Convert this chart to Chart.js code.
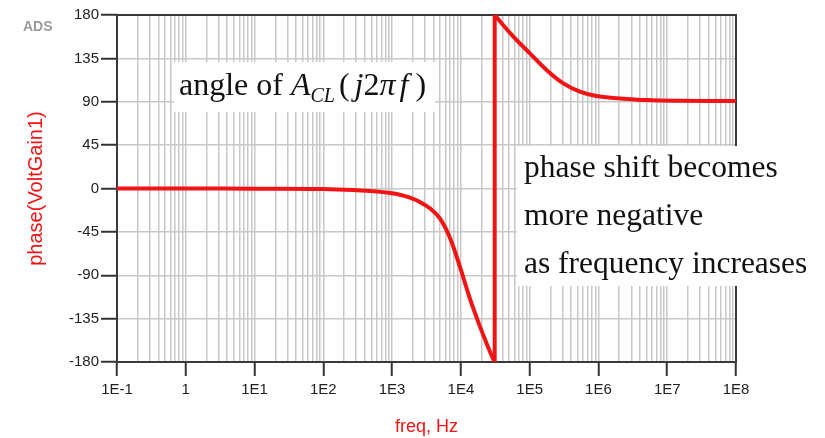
<!DOCTYPE html>
<html>
<head>
<meta charset="utf-8">
<script src="https://cdn.jsdelivr.net/npm/chart.js@4/dist/chart.umd.min.js"></script>
<style>
  html, body { margin: 0; padding: 0; background: #fff; }
  #wrap { width: 825px; height: 438px; }
</style>
</head>
<body>
<div id="wrap"><canvas id="chart" width="825" height="438"></canvas></div>
<script>
// frequency (Hz) and phase (deg)
const freq = [0.1, 1, 10, 100, 300, 600, 929, 1297, 1815, 2535, 3540, 4955, 6920, 9670, 13500, 18900, 26400, 30900,
              31000, 57500, 100000, 176000, 309000, 537000, 933000, 2040000, 5010000, 15100000, 100000000];
const phase = [0, -0.05, -0.2, -0.6, -1.8, -3.2, -4.7, -6.5, -9.5, -14, -20.5, -31, -51, -81, -114, -143, -169, -180,
               180, 157.8, 140.4, 123, 109, 100.4, 95.9, 93.5, 91.7, 91, 90.8];
const wrapAt = 17; // last point before the phase wraps from -180 to +180

const decades = [0.1, 1, 10, 1e2, 1e3, 1e4, 1e5, 1e6, 1e7, 1e8];
const decadeLabels = ['1E-1', '1', '1E1', '1E2', '1E3', '1E4', '1E5', '1E6', '1E7', '1E8'];
const yTicks = [-180, -135, -90, -45, 0, 45, 90, 135, 180];

const RED = '#f01414';
const SANS = "'Liberation Sans', Arial, sans-serif";
const SERIF = "'Liberation Serif', 'Times New Roman', serif";

const pts = (a, b) => freq.slice(a, b).map((f, i) => ({ x: f, y: phase[a + i] }));
const isDecade = v => decades.some(d => Math.abs(d - v) < d * 1e-6);

const lineStyle = {
  borderColor: RED,
  borderWidth: 4,
  pointRadius: 0,
  fill: false,
  tension: 0.4
};

// box around the plot area
const frame = {
  id: 'frame',
  beforeDatasetsDraw(chart) {
    const { ctx, chartArea: a } = chart;
    ctx.save();
    ctx.strokeStyle = '#3a3a3a';
    ctx.lineWidth = 2;
    ctx.strokeRect(a.left, a.top, a.right - a.left, a.bottom - a.top);
    ctx.restore();
  }
};

// text boxes pasted over the plot
const notes = {
  id: 'notes',
  afterDraw(chart) {
    const c = chart.ctx;
    c.save();
    c.fillStyle = '#9a9a9a';
    c.font = 'bold 14px ' + SANS;
    c.textBaseline = 'middle';
    c.fillText('ADS', 23, 27);

    c.textBaseline = 'alphabetic';
    c.fillStyle = '#fff';
    c.fillRect(174, 62, 261, 50);
    c.fillRect(517, 146, 296, 140);

    c.fillStyle = '#111';
    let x = 179;
    const put = (txt, font, dy, gap) => {
      c.font = font;
      c.fillText(txt, x, 95 + dy);
      x += c.measureText(txt).width + gap;
    };
    put('angle of ', '32px ' + SERIF, 0, 0);
    put('A', 'italic 32px ' + SERIF, 0, 0);
    put('CL', 'italic 20px ' + SERIF, 7, 4);
    put('(', '32px ' + SERIF, 0, 5);
    put('j', 'italic 32px ' + SERIF, 0, 0);
    put('2', '32px ' + SERIF, 0, 0);
    put('\u03c0', 'italic 32px ' + SERIF, 0, 4);
    put('f', 'italic 32px ' + SERIF, 0, 7);
    put(')', '32px ' + SERIF, 0, 0);

    c.font = '31.5px ' + SERIF;
    ['phase shift becomes', 'more negative', 'as frequency increases'].forEach((t, i) => {
      c.fillText(t, 524, 177 + i * 48);
    });
    c.restore();
  }
};

new Chart(document.getElementById('chart'), {
  type: 'line',
  data: {
    datasets: [
      { ...lineStyle, data: pts(0, wrapAt + 1) },
      { ...lineStyle, tension: 0, data: pts(wrapAt, wrapAt + 2) },
      { ...lineStyle, data: pts(wrapAt + 1, freq.length) }
    ]
  },
  options: {
    responsive: false,
    animation: false,
    parsing: false,
    layout: { padding: { top: 15, right: 89, left: 0, bottom: 0 } },
    plugins: { legend: { display: false }, tooltip: { enabled: false } },
    scales: {
      x: {
        type: 'logarithmic',
        min: 0.1,
        max: 1e8,
        afterBuildTicks: scale => {
          const t = [];
          decades.forEach((d, i) => {
            t.push({ value: d });
            if (i < decades.length - 1) for (let k = 2; k <= 9; k++) t.push({ value: d * k });
          });
          scale.ticks = t;
        },
        afterFit: scale => { scale.height = 76; },
        border: { display: false },
        grid: {
          color: '#c8c8c8',
          lineWidth: 1.5,
          tickLength: 14,
          tickWidth: 2,
          tickColor: ctx => (ctx.tick && isDecade(ctx.tick.value)) ? '#333' : 'rgba(0,0,0,0)'
        },
        ticks: {
          autoSkip: false,
          maxRotation: 0,
          padding: 5,
          color: '#222',
          font: { family: SANS, size: 15 },
          callback: v => {
            const i = decades.findIndex(d => Math.abs(d - v) < d * 1e-6);
            return i >= 0 ? decadeLabels[i] : '';
          }
        },
        title: {
          display: true,
          text: 'freq, Hz',
          color: RED,
          font: { family: SANS, size: 18 },
          padding: { top: 2, bottom: 0 }
        }
      },
      y: {
        min: -180,
        max: 180,
        afterBuildTicks: scale => { scale.ticks = yTicks.map(v => ({ value: v })); },
        afterFit: scale => { scale.width = 117; },
        border: { display: false },
        grid: {
          color: '#c8c8c8',
          lineWidth: 1.5,
          tickLength: 16,
          tickWidth: 2,
          tickColor: '#333'
        },
        ticks: {
          padding: 2,
          color: '#222',
          font: { family: SANS, size: 15 }
        },
        title: {
          display: true,
          text: 'phase(VoltGain1)',
          color: RED,
          font: { family: SANS, size: 20 },
          padding: { top: 24, bottom: 0 }
        }
      }
    }
  },
  plugins: [frame, notes]
});
</script>
</body>
</html>
